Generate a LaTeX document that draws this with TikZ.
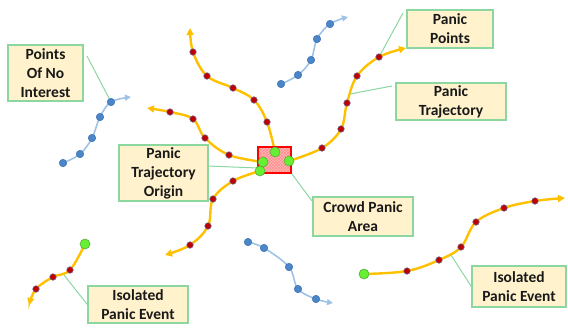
\documentclass[tikz,border=0pt]{standalone}
\usepackage{fontspec}
\setmainfont{Carlito}
\usetikzlibrary{arrows.meta,patterns,backgrounds}
\definecolor{trajc}{RGB}{255,192,0}
\definecolor{reddotc}{RGB}{192,0,0}
\definecolor{reddotb}{RGB}{110,100,140}
\definecolor{greendotc}{RGB}{102,240,51}
\definecolor{greendotb}{RGB}{90,170,60}
\definecolor{bluedotc}{RGB}{74,134,200}
\definecolor{bluedotb}{RGB}{60,110,180}
\definecolor{bluelinec}{RGB}{157,195,230}
\definecolor{boxfill}{RGB}{255,242,204}
\definecolor{boxline}{RGB}{140,215,160}
\definecolor{pinkc}{RGB}{255,185,185}
\definecolor{textc}{RGB}{25,25,25}
\tikzset{
  lbl/.style={draw=boxline, line width=1.4pt, fill=boxfill, inner sep=0pt, align=center,
    font=\bfseries\fontsize{15.5}{19}\selectfont, text=textc},
  conn/.style={draw=boxline, line width=1pt},
  reddot/.style={circle, fill=reddotc, draw=reddotb, line width=0.6pt, minimum size=6.5pt, inner sep=0pt},
  greendot/.style={circle, fill=greendotc, draw=greendotb, line width=0.6pt, minimum size=10pt, inner sep=0pt},
  bluedot/.style={circle, fill=bluedotc, draw=bluedotb, line width=0.5pt, minimum size=7.5pt, inner sep=0pt},
  trajline/.style={draw=trajc, line width=2.4pt, -{Triangle[length=7pt,width=7pt]}},
  blueline/.style={draw=bluelinec, line width=1.6pt, -{Triangle[length=6pt,width=6pt]}, color=bluelinec},
  crowdbox/.style={draw=red, line width=1.8pt, preaction={fill=pinkc}, pattern=crosshatch, pattern color=red!45, minimum width=33pt, minimum height=26pt, inner sep=0pt}
}
\begin{document}
\begin{tikzpicture}[x=1pt,y=-1pt]
\useasboundingbox (0,0) rectangle (568,327);

% crowd panic area box
\node[crowdbox] (cbox) at (274.5,160) {};

% trajectory 1 (up)
\node[greendot] (g1) at (275,152) {};
\node[reddot] (t1a) at (267,122) {};
\node[reddot] (t1b) at (254,100) {};
\node[reddot] (t1c) at (233,88) {};
\node[reddot] (t1d) at (207,76) {};
\node[reddot] (t1e) at (193,52) {};
\coordinate (e1) at (190,28);
% trajectory 2 (left)
\node[greendot] (g2) at (263,162) {};
\node[reddot] (t2a) at (229,155) {};
\node[reddot] (t2b) at (205,138) {};
\node[reddot] (t2c) at (193,119) {};
\node[reddot] (t2d) at (170,112) {};
\coordinate (e2) at (147,108);
% trajectory 3 (right)
\node[greendot] (g3) at (289,161) {};
\node[reddot] (t3a) at (322,148) {};
\node[reddot] (t3b) at (341,129) {};
\node[reddot] (t3c) at (347,103) {};
\node[reddot] (t3d) at (357,76) {};
\node[reddot] (t3e) at (379,57) {};
\coordinate (e3) at (406,48);
% trajectory 4 (down-left)
\node[greendot] (g4) at (260,171) {};
\node[reddot] (t4a) at (233,181) {};
\node[reddot] (t4b) at (213,199) {};
\node[reddot] (t4c) at (208,226) {};
\node[reddot] (t4d) at (190,245) {};
\coordinate (e4) at (165,255);
% isolated left
\node[greendot] (g5) at (85,244) {};
\node[reddot] (t5a) at (70,270) {};
\node[reddot] (t5b) at (53,277) {};
\node[reddot] (t5c) at (36,289) {};
\coordinate (e5) at (29,305);
% isolated right
\node[greendot] (g6) at (364,274) {};
\node[reddot] (t6a) at (407,271) {};
\node[reddot] (t6b) at (439,260) {};
\node[reddot] (t6c) at (461,247) {};
\node[reddot] (t6d) at (476,222) {};
\node[reddot] (t6e) at (504,208) {};
\node[reddot] (t6f) at (535,201) {};
\coordinate (e6) at (565,198);
% blue trajectories
\node[bluedot] (b1a) at (63,163) {};
\node[bluedot] (b1b) at (80,154) {};
\node[bluedot] (b1c) at (92,138) {};
\node[bluedot] (b1d) at (100,117) {};
\node[bluedot] (b1e) at (111,102) {};
\coordinate (f1) at (131,97);
\node[bluedot] (b2a) at (281,84) {};
\node[bluedot] (b2b) at (298,75) {};
\node[bluedot] (b2c) at (311,60) {};
\node[bluedot] (b2d) at (317,39) {};
\node[bluedot] (b2e) at (330,24) {};
\coordinate (f2) at (348,17);
\node[bluedot] (b3a) at (248,242) {};
\node[bluedot] (b3b) at (264,248) {};
\node[bluedot] (b3c) at (289,267) {};
\node[bluedot] (b3d) at (298,289) {};
\node[bluedot] (b3e) at (316,299) {};
\coordinate (f3) at (333,303);

% labels
\node[lbl, minimum width=75pt, minimum height=56pt] (poni) at (45.5,73) {Points\\Of No\\Interest};
\node[lbl, minimum width=86pt, minimum height=38pt] (pp) at (450,29) {Panic\\Points};
\node[lbl, minimum width=110pt, minimum height=37pt] (pt) at (451,101.5) {Panic\\Trajectory};
\node[lbl, minimum width=89pt, minimum height=56pt] (pto) at (163.5,173) {Panic\\Trajectory\\Origin};
\node[lbl, minimum width=100pt, minimum height=39pt] (cpa) at (363,216.5) {Crowd Panic\\Area};
\node[lbl, minimum width=100pt, minimum height=37pt] (ipe1) at (138,304.5) {Isolated\\Panic Event};
\node[lbl, minimum width=94pt, minimum height=41pt] (ipe2) at (519,286.5) {Isolated\\Panic Event};

\coordinate (c1) at (87,56);
\coordinate (c2) at (403,13);
\coordinate (c3) at (392,86);
\coordinate (c3e) at (350,94);
\coordinate (c4) at (208,166);
\coordinate (c4e) at (258,168);
\coordinate (c5) at (312,201);
\coordinate (c6e) at (64,275);
\coordinate (c7e) at (451,255);

\begin{scope}[on background layer]
  \draw[trajline] plot[smooth, tension=0.6] coordinates {(g1.center) (t1a.center) (t1b.center) (t1c.center) (t1d.center) (t1e.center) (e1)};
  \draw[trajline] plot[smooth, tension=0.6] coordinates {(g2.center) (t2a.center) (t2b.center) (t2c.center) (t2d.center) (e2)};
  \draw[trajline] plot[smooth, tension=0.6] coordinates {(g3.center) (t3a.center) (t3b.center) (t3c.center) (t3d.center) (t3e.center) (e3)};
  \draw[trajline] plot[smooth, tension=0.6] coordinates {(g4.center) (t4a.center) (t4b.center) (t4c.center) (t4d.center) (e4)};
  \draw[trajline] plot[smooth, tension=0.6] coordinates {(g5.center) (t5a.center) (t5b.center) (t5c.center) (e5)};
  \draw[trajline] plot[smooth, tension=0.6] coordinates {(g6.center) (t6a.center) (t6b.center) (t6c.center) (t6d.center) (t6e.center) (t6f.center) (e6)};
  \draw[blueline] plot[smooth, tension=0.6] coordinates {(b1a.center) (b1b.center) (b1c.center) (b1d.center) (b1e.center) (f1)};
  \draw[blueline] plot[smooth, tension=0.6] coordinates {(b2a.center) (b2b.center) (b2c.center) (b2d.center) (b2e.center) (f2)};
  \draw[blueline] plot[smooth, tension=0.6] coordinates {(b3a.center) (b3b.center) (b3c.center) (b3d.center) (b3e.center) (f3)};
  \draw[conn] (c1) -- (b1e.center);
  \draw[conn] (c2) -- (t3e.center);
  \draw[conn] (c3) -- (c3e);
  \draw[conn] (c4) -- (c4e);
  \draw[conn] (c5) -- (cbox.south east);
  \draw[conn] (ipe1.west) -- (c6e);
  \draw[conn] (ipe2.west) -- (c7e);
\end{scope}
\end{tikzpicture}
\end{document}
